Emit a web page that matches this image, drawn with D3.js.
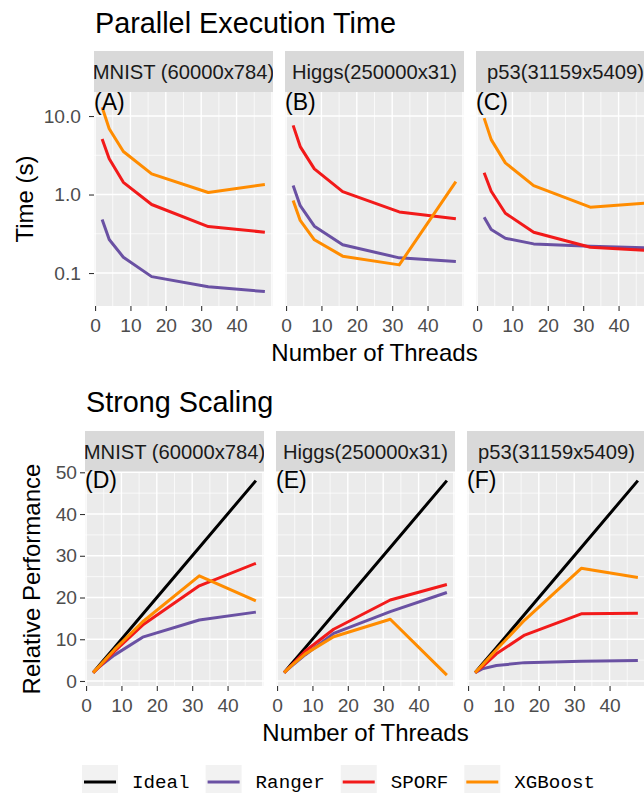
<!DOCTYPE html>
<html>
<head>
<meta charset="utf-8">
<script src="https://cdn.jsdelivr.net/npm/d3@7"></script>
<style>
body { margin: 0; background: #fff; overflow: hidden; }
svg { display: block; font-family: "Liberation Sans", Arial, sans-serif; }
</style>
</head>
<body>
<div id="viz"></div>
<script>
//data
const threads = [2, 4, 8, 16, 32, 48];
const datasets = ["MNIST (60000x784)", "Higgs(250000x31)", "p53(31159x5409)"];
const methods = ["Ideal", "Ranger", "SPORF", "XGBoost"];
const methodColors = ["#000000", "#6A51A3", "#F21A1A", "#FF8C00"];

//parallel execution time (s), one row per dataset
const timeRanger = [[0.48, 0.267, 0.159, 0.090, 0.067, 0.058],
                    [1.30, 0.72, 0.395, 0.229, 0.156, 0.140],
                    [0.514, 0.358, 0.277, 0.235, 0.219, 0.209]];
const timeSporf = [[5.1, 2.85, 1.43, 0.746, 0.391, 0.331],
                   [7.6, 4.08, 2.12, 1.09, 0.60, 0.49],
                   [1.89, 1.10, 0.578, 0.331, 0.213, 0.194]];
const timeXgb = [[12.9, 6.9, 3.53, 1.83, 1.06, 1.34],
                 [0.84, 0.467, 0.265, 0.164, 0.127, 1.46],
                 [9.4, 5.0, 2.53, 1.30, 0.69, 0.78]];

//relative performance, one row per dataset
const perfIdeal = [2, 4, 8, 16, 32, 48];
const perfRanger = [[2, 3.6, 6.2, 10.5, 14.6, 16.5],
                    [2, 3.5, 6.3, 11.4, 16.6, 21.2],
                    [2, 2.9, 3.7, 4.4, 4.7, 4.9]];
const perfSporf = [[2, 3.6, 7.1, 13.4, 22.8, 28.2],
                   [2, 3.7, 7.2, 12.4, 19.4, 23.1],
                   [2, 3.4, 6.5, 11.0, 16.1, 16.2]];
const perfXgb = [[2, 3.8, 7.5, 14.2, 25.2, 19.2],
                 [2, 3.6, 6.5, 10.6, 14.8, 1.4],
                 [2, 3.8, 7.5, 14.6, 27.0, 24.8]];

const topLabels = ["(A)", "(B)", "(C)"];
const bottomLabels = ["(D)", "(E)", "(F)"];

//dimensions
const width = 644, height = 793;
const panel_w = 179, panel_h = 214, strip_h = 41;

const svg = d3.select("#viz")
    .append("svg")
        .attr("width", width)
        .attr("height", height);

//scales shared by all panels
const x = d3.scaleLinear().domain([-0.3, 50.3]).range([0, panel_w]);
const yTime = d3.scaleLog().domain([Math.pow(10, -1.42), Math.pow(10, 1.306)]).range([panel_h, 0]);
const yPerf = d3.scaleLinear().domain([-1.2, 50.07]).range([panel_h, 0]);

function drawRow(opt) {
    opt.lefts.forEach(function(left, i) {
        const g = svg.append("g")
            .attr("transform", `translate(${left}, ${opt.top})`);

        //strip
        const clipId = "strip" + opt.tag + i;
        g.append("clipPath").attr("id", clipId)
            .append("rect").attr("x", 0).attr("y", -strip_h).attr("width", panel_w).attr("height", strip_h);
        g.append("rect")
            .attr("x", 0).attr("y", -strip_h)
            .attr("width", panel_w).attr("height", strip_h)
            .attr("fill", "#D9D9D9");
        g.append("text")
            .attr("clip-path", `url(#${clipId})`)
            .attr("x", panel_w / 2).attr("y", -strip_h / 2)
            .attr("dy", "0.35em")
            .attr("text-anchor", "middle")
            .style("font-size", "20.2px")
            .attr("fill", "#1A1A1A")
            .text(datasets[i]);

        //panel background + grid
        g.append("rect")
            .attr("width", panel_w).attr("height", panel_h)
            .attr("fill", "#EBEBEB");
        g.selectAll(".ymin").data(opt.yMinor).join("line")
            .attr("x1", 0).attr("x2", panel_w)
            .attr("y1", d => opt.y(d)).attr("y2", d => opt.y(d))
            .attr("stroke", "#fff").attr("stroke-width", 0.7);
        g.selectAll(".xmin").data([5, 15, 25, 35, 45]).join("line")
            .attr("y1", 0).attr("y2", panel_h)
            .attr("x1", d => x(d)).attr("x2", d => x(d))
            .attr("stroke", "#fff").attr("stroke-width", 0.7);
        g.selectAll(".ymaj").data(opt.yMajor).join("line")
            .attr("x1", 0).attr("x2", panel_w)
            .attr("y1", d => opt.y(d)).attr("y2", d => opt.y(d))
            .attr("stroke", "#fff").attr("stroke-width", 1.4);
        g.selectAll(".xmaj").data([0, 10, 20, 30, 40, 50]).join("line")
            .attr("y1", 0).attr("y2", panel_h)
            .attr("x1", d => x(d)).attr("x2", d => x(d))
            .attr("stroke", "#fff").attr("stroke-width", 1.4);

        //lines
        const line = d3.line()
            .x(d => x(d[0]))
            .y(d => opt.y(d[1]));
        const series = opt.series(i);
        g.selectAll(".series").data(series).join("path")
            .attr("d", d => line(d3.zip(threads, d.values)))
            .attr("fill", "none")
            .attr("stroke", d => methodColors[methods.indexOf(d.name)])
            .attr("stroke-width", 3)
            .attr("stroke-linejoin", "round");

        //panel annotation
        g.append("text")
            .attr("x", x(-0.3)).attr("y", opt.y(opt.labelY))
            .attr("dy", opt.labelDy)
            .style("font-size", "23px")
            .attr("fill", "#000")
            .text(opt.labels[i]);

        //x axis
        const xa = g.append("g")
            .attr("transform", `translate(0, ${panel_h})`)
            .call(d3.axisBottom(x).tickValues([0, 10, 20, 30, 40]).tickSize(5).tickPadding(7));
        styleAxis(xa);

        //y axis on first panel only
        if (i === 0) {
            const ya = g.append("g")
                .call(d3.axisLeft(opt.y).tickValues(opt.yMajor).tickFormat(opt.yFormat)
                    .tickSize(5).tickPadding(opt.yPad));
            styleAxis(ya);
        }
    });
}

function styleAxis(a) {
    a.select(".domain").remove();
    a.selectAll(".tick line").attr("stroke", "#333333").attr("stroke-width", 1.1);
    a.selectAll(".tick text")
        .attr("fill", "#4D4D4D")
        .style("font-size", "19.2px")
        .style("font-family", "'Liberation Sans', Arial, sans-serif");
}

//top row: parallel execution time
drawRow({
    tag: "t", top: 92, lefts: [94, 285, 476],
    y: yTime, yMajor: [0.1, 1, 10], yMinor: [Math.pow(10, -0.5), Math.pow(10, 0.5)],
    yFormat: d3.format(".1f"), yPad: 8,
    labels: topLabels, labelY: 14, labelDy: "0.25em",
    series: i => [
        {name: "Ranger", values: timeRanger[i]},
        {name: "SPORF", values: timeSporf[i]},
        {name: "XGBoost", values: timeXgb[i]}
    ]
});

//bottom row: strong scaling
drawRow({
    tag: "b", top: 472, lefts: [85, 276, 467],
    y: yPerf, yMajor: [0, 10, 20, 30, 40, 50], yMinor: [5, 15, 25, 35, 45],
    yFormat: d3.format("d"), yPad: 3,
    labels: bottomLabels, labelY: 47.5, labelDy: "0.25em",
    series: i => [
        {name: "Ideal", values: perfIdeal},
        {name: "Ranger", values: perfRanger[i]},
        {name: "SPORF", values: perfSporf[i]},
        {name: "XGBoost", values: perfXgb[i]}
    ]
});

//titles
svg.append("text").attr("x", 95).attr("y", 33)
    .style("font-size", "28.8px").text("Parallel Execution Time");
svg.append("text").attr("x", 86).attr("y", 412)
    .style("font-size", "28.8px").text("Strong Scaling");

svg.append("text").attr("x", 374.5).attr("y", 361)
    .attr("text-anchor", "middle").style("font-size", "24px").text("Number of Threads");
svg.append("text").attr("x", 365.5).attr("y", 741)
    .attr("text-anchor", "middle").style("font-size", "24px").text("Number of Threads");

svg.append("text").attr("transform", "translate(33, 199) rotate(-90)")
    .attr("text-anchor", "middle").style("font-size", "24px").text("Time (s)");
svg.append("text").attr("transform", "translate(40, 579) rotate(-90)")
    .attr("text-anchor", "middle").style("font-size", "24px").text("Relative Performance");

//legend
const charW = 11.52;
let lx = 82;
methods.forEach(function(m, i) {
    const lg = svg.append("g").attr("transform", `translate(${lx}, 765)`);
    lg.append("rect").attr("width", 36).attr("height", 36).attr("fill", "#F2F2F2");
    lg.append("line")
        .attr("x1", 2).attr("x2", 34).attr("y1", 17).attr("y2", 17)
        .attr("stroke", methodColors[i]).attr("stroke-width", 3);
    lg.append("text")
        .attr("x", 50).attr("y", 17).attr("dy", "0.3em")
        .style("font-family", "'Liberation Mono', 'Courier New', monospace")
        .style("font-size", "19.2px")
        .text(m);
    lx += 50 + m.length * charW + 16;
});
</script>
</body>
</html>
